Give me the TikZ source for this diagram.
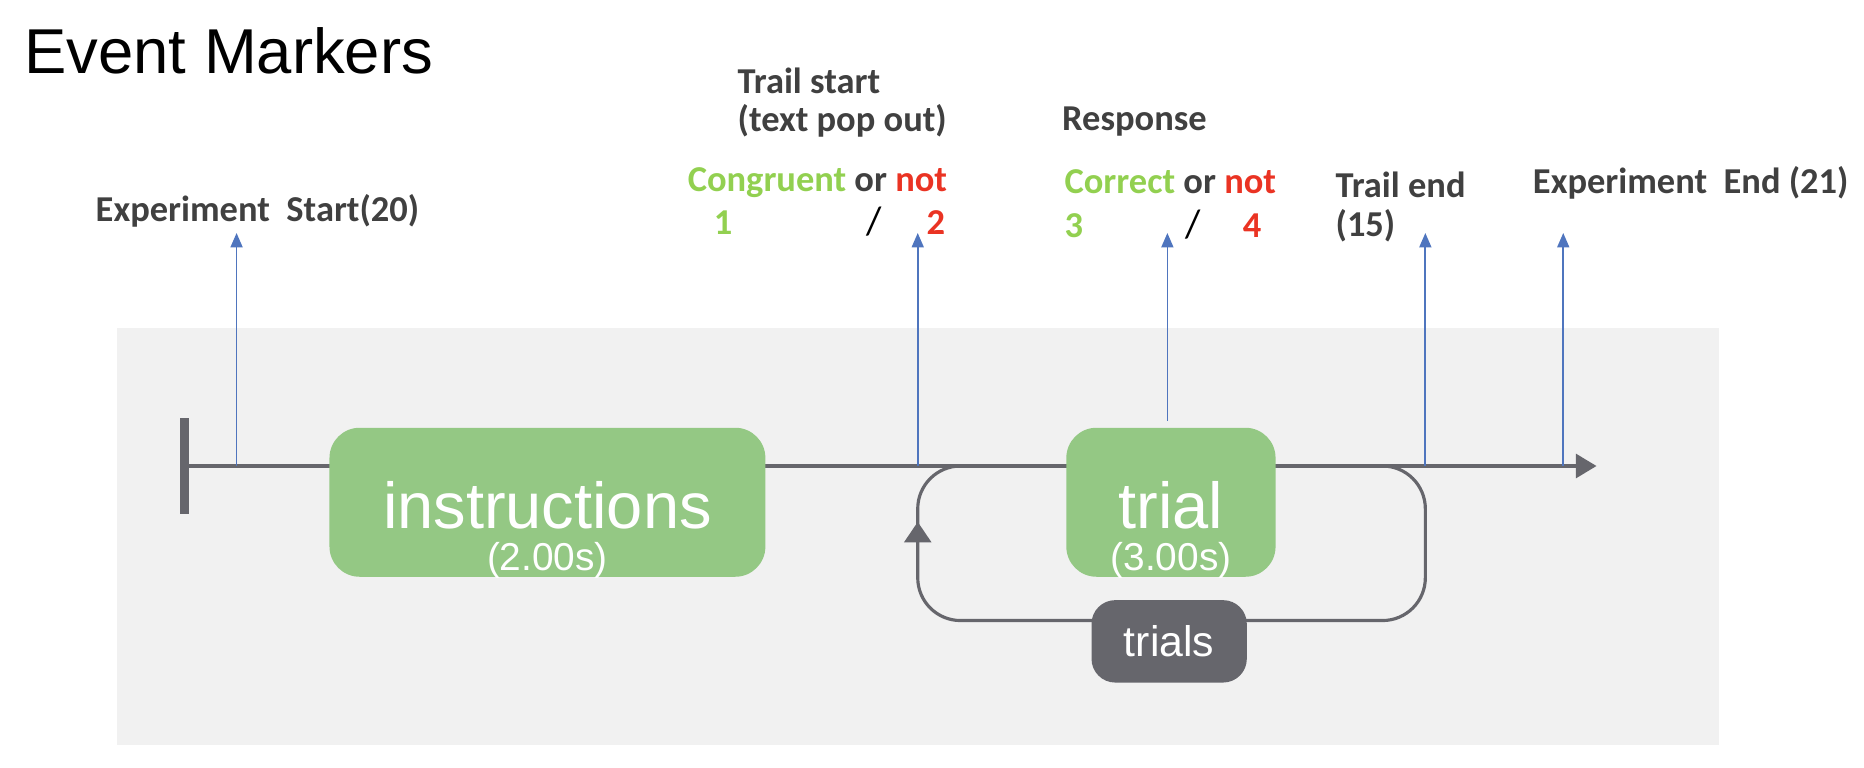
\documentclass[tikz,border=0pt]{standalone}
\usepackage{fontspec}
\setmainfont{Liberation Sans}
\newfontfamily\labelfont{Carlito}
\usetikzlibrary{arrows.meta}

\definecolor{bgGray}{RGB}{241,241,241}
\definecolor{boxGreen}{RGB}{148,200,132}
\definecolor{lineGray}{RGB}{102,102,108}
\definecolor{markBlue}{RGB}{79,117,190}
\definecolor{textGray}{RGB}{64,64,64}
\definecolor{okGreen}{RGB}{146,208,80}
\definecolor{noRed}{RGB}{234,51,35}

\begin{document}
\begin{tikzpicture}[
    x=0.75pt,y=0.75pt,
    yscale=-1,xscale=1,
    every path/.append style ={line width = 0.8pt,},
    routine/.style = {
        fill = boxGreen, rounded corners = 19pt,
        text = white, align = center, inner sep = 0pt,
        minimum height = 94pt, text height = 86.5pt, text depth = 0pt,
        font = \fontsize{24.5}{24.5}\selectfont,
    },
    repeatbox/.style = {
        fill = lineGray, rounded corners = 15pt,
        text = white, inner sep = 0pt,
        minimum width = 98pt, minimum height = 52pt,
        font = \fontsize{27}{27}\selectfont,
    },
    timeline/.style = {draw = lineGray, line width = 2.2pt},
    marker/.style = {
        draw = markBlue, line width = 1.1pt,
        -{Triangle[length=9pt,width=7.5pt]},
    },
    event/.style = {
        anchor = base west, align = left, inner sep = 0pt,
        text = textGray,
        font = \labelfont\bfseries\fontsize{23}{24.5}\selectfont,
    },
    slash/.style = {
        anchor = base west, inner sep = 0pt, text = black,
        font = \labelfont\fontsize{25}{25}\selectfont,
    },
]
    \useasboundingbox (0,0) rectangle (1568,646);

    % 标题
    \node [anchor=base west, inner sep=0pt, font=\fontsize{40}{40}\selectfont]
        (title) at (20,62) {Event Markers};

    % 背景
    \fill [bgGray] (98,276) rectangle (1446,627);

    % 时间轴
    \coordinate (tStart) at (155,392);
    \coordinate (tEnd)   at (1343,392);
    \draw [timeline, -{Triangle[length=13pt,width=15pt]}] (tStart) -- (tEnd);
    \draw [lineGray, line width=6pt] (155,352) -- (155,432);

    % 循环
    \draw [timeline, line width=2pt, rounded corners=27pt]
        (985,392) -- (1199,392) -- (1199,522) -- (772,522) -- (772,392) -- cycle;
    \draw [timeline, line width=2pt, -{Triangle[length=13pt,width=17pt]}]
        (772,480) -- (772,439);

    % 矩形
    \node [routine, minimum width=275pt] (instr) at (460.5,422.5) {
        {\fontsize{41}{41}\selectfont instructions}\\[2.25pt](2.00s)
    };
    \node [routine, minimum width=132pt] (trial) at (985,422.5) {
        {\fontsize{41}{41}\selectfont trial}\\[2.25pt](3.00s)
    };
    \node [repeatbox] (trials) at (983.5,539.5) {trials};

    % 箭头
    \coordinate (onStart)   at (199,392);
    \coordinate (tipStart)  at (199,196);
    \coordinate (onPop)     at (772,392);
    \coordinate (tipPop)    at (772,196);
    \coordinate (onResp)    at (982,354);
    \coordinate (tipResp)   at (982,196);
    \coordinate (onEnd)     at (1199,392);
    \coordinate (tipEnd)    at (1199,196);
    \coordinate (onExpEnd)  at (1315,392);
    \coordinate (tipExpEnd) at (1315,196);
    \draw [marker] (onStart)  -- (tipStart);
    \draw [marker] (onPop)    -- (tipPop);
    \draw [marker] (onResp)   -- (tipResp);
    \draw [marker] (onEnd)    -- (tipEnd);
    \draw [marker] (onExpEnd) -- (tipExpEnd);

    % 文本
    \node [event] (expStart) at (80,186) {Experiment~ Start(20)};
    \node [event] (trialStart) at (620,111) {Trail start\\(text pop out)};
    \node [event] (congr) at (578,161) {%
        \textcolor{okGreen}{Congruent} or \textcolor{noRed}{not}};
    \node [event, text=okGreen] (congrYes) at (600,197) {1};
    \node [slash] (congrSep) at (728,197) {/};
    \node [event, text=noRed] (congrNo) at (779,197) {2};
    \node [event] (resp) at (893,110) {Response};
    \node [event] (correct) at (895,163) {%
        \textcolor{okGreen}{Correct} or \textcolor{noRed}{not}};
    \node [event, text=okGreen] (correctYes) at (895,200) {3};
    \node [slash] (correctSep) at (997,200) {/};
    \node [event, text=noRed] (correctNo) at (1045,200) {4};
    \node [event] (trialEnd) at (1123,199) {Trail end\\(15)};
    \node [event] (expEnd) at (1289,163) {Experiment~ End (21)};
\end{tikzpicture}
\end{document}
